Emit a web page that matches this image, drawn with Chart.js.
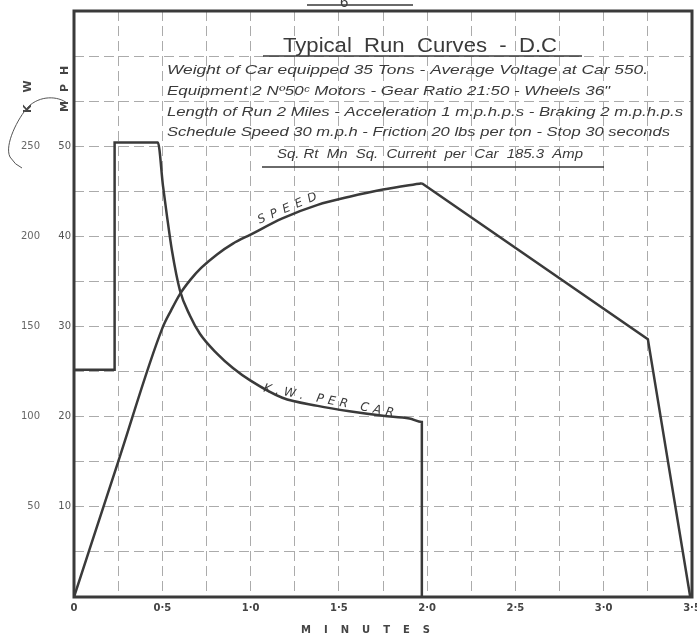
<!DOCTYPE html>
<html>
<head>
<meta charset="utf-8">
<script src="https://cdn.jsdelivr.net/npm/chart.js@4"></script>
<style>
  html, body { margin: 0; padding: 0; background: #fff; }
  #wrap { width: 697px; height: 637px; }
</style>
</head>
<body>
<div id="wrap"><canvas id="runChart" width="697" height="637"></canvas></div>
<script>
// tick labels
const minuteTicks = ['0', '0·5', '1·0', '1·5', '2·0', '2·5', '3·0', '3·5'];
const mphTicks = [10, 20, 30, 40, 50];
const kwTicks = [50, 100, 150, 200, 250];

// speed curve (m.p.h. against minutes) - power on up to 1.97, then coast and brake
const speedMinutes = [0, 0.25, 0.5, 0.55, 0.6, 0.66, 0.72, 0.81, 0.9, 1.0, 1.18, 1.38, 1.56, 1.75, 1.97, 3.25, 3.49];
const speedMph = [0, 15, 29.8, 31.8, 33.6, 35.2, 36.5, 38, 39.2, 40.2, 42, 43.5, 44.4, 45.2, 45.9, 28.6, 0];
const powerOffIndex = 14;

// K.W. per car curve
const kwMinutes = [0, 0.23, 0.23, 0.475, 0.504, 0.527, 0.555, 0.6, 0.657, 0.713, 0.81, 0.9, 1.0, 1.18, 1.38, 1.56, 1.75, 1.9, 1.97, 1.97];
const kwValues = [126, 126, 252, 252, 228, 211, 192, 170, 156, 146, 135, 127, 120, 110.5, 106, 103, 100.5, 99, 97, 0];

const infoLines = [
    'Weight of Car equipped 35 Tons - Average Voltage at Car 550.',
    'Equipment 2 Nº50ᶜ Motors - Gear Ratio 21:50 - Wheels 36"',
    'Length of Run 2 Miles - Acceleration 1 m.p.h.p.s - Braking 2 m.p.h.p.s',
    'Schedule Speed 30 m.p.h - Friction 20 lbs per ton - Stop 30 seconds'
];

const ink = '#3a3a3a';

function pairUp(xs, ys) {
    return xs.map((x, i) => ({ x: x, y: ys[i] }));
}

// draw text squeezed/stretched to a given width
function fitText(ctx, text, x, y, width, font) {
    ctx.save();
    ctx.font = font;
    const w = ctx.measureText(text).width;
    ctx.translate(x, y);
    ctx.scale(width / w, 1);
    ctx.fillText(text, 0, 0);
    ctx.restore();
}

function spacedText(ctx, text, x, y, angle, gap, font) {
    ctx.save();
    ctx.translate(x, y);
    ctx.rotate(angle);
    ctx.font = font;
    let cx = 0;
    for (const ch of text) {
        ctx.fillText(ch, cx, 0);
        cx += ctx.measureText(ch).width + gap;
    }
    ctx.restore();
}

const paperPlugin = {
    id: 'paper',
    beforeDraw(chart) {
        const ctx = chart.ctx;
        ctx.save();
        ctx.fillStyle = '#fff';
        ctx.fillRect(0, 0, chart.width, chart.height);
        ctx.restore();
    },
    beforeDatasetsDraw(chart) {
        const ctx = chart.ctx;
        ctx.save();
        ctx.fillStyle = ink;
        ctx.textBaseline = 'alphabetic';

        // title block
        fitText(ctx, 'Typical  Run  Curves  -  D.C', 283, 52, 274, '20px "Liberation Sans"');
        fitText(ctx, infoLines[0], 167, 74, 481, 'italic 13px "Liberation Sans"');
        fitText(ctx, infoLines[1], 167, 95, 443, 'italic 13px "Liberation Sans"');
        fitText(ctx, infoLines[2], 167, 116, 516, 'italic 13px "Liberation Sans"');
        fitText(ctx, infoLines[3], 167, 136, 503, 'italic 13px "Liberation Sans"');
        fitText(ctx, 'Sq. Rt  Mn  Sq.  Current  per  Car  185.3  Amp', 277, 158, 306, 'italic 13px "Liberation Sans"');

        ctx.strokeStyle = ink;
        ctx.lineWidth = 1.3;
        ctx.beginPath();
        ctx.moveTo(263, 56); ctx.lineTo(582, 56);
        ctx.moveTo(262, 167); ctx.lineTo(604, 167);
        // fig. heading underline at the top edge
        ctx.moveTo(307, 5); ctx.lineTo(413, 5);
        ctx.stroke();
        ctx.font = '15px "Liberation Sans"';
        ctx.fillText('6', 340, 7);
        ctx.restore();
    },
    afterDraw(chart) {
        const ctx = chart.ctx;
        const a = chart.chartArea;
        const xs = chart.scales.x;
        const ys = chart.scales.mph;
        ctx.save();
        // heavy frame
        ctx.strokeStyle = ink;
        ctx.lineWidth = 3;
        ctx.strokeRect(a.left, a.top, a.right - a.left, a.bottom - a.top);

        ctx.fillStyle = ink;
        // curve names
        spacedText(ctx, 'SPEED', xs.getPixelForValue(1.05), ys.getPixelForValue(41.4), -0.40, 6, 'italic 12px "DejaVu Sans"');
        spacedText(ctx, 'K.W. PER CAR', xs.getPixelForValue(1.07), ys.getPixelForValue(22.8), 0.19, 4.5, 'italic 12px "DejaVu Sans"');

        // axis titles
        ctx.fillStyle = '#444';
        spacedText(ctx, 'MPH', 68, 112, -Math.PI / 2, 9, 'bold 11px "DejaVu Sans"');
        spacedText(ctx, 'KW', 31, 113, -Math.PI / 2, 12, 'bold 11px "DejaVu Sans"');
        spacedText(ctx, 'MINUTES', 301, 633, 0, 13, 'bold 10px "DejaVu Sans"');

        // pencil squiggle beside the K W title
        ctx.strokeStyle = '#555';
        ctx.lineWidth = 1;
        ctx.beginPath();
        ctx.moveTo(67, 103);
        ctx.bezierCurveTo(58, 96, 40, 95, 28, 107);
        ctx.bezierCurveTo(18, 118, 4, 145, 10, 157);
        ctx.quadraticCurveTo(15, 165, 22, 168);
        ctx.stroke();
        ctx.restore();
    }
};

const gridStyle = {
    color: '#ababab',
    lineWidth: 1,
    drawTicks: false
};

const lineStyle = {
    borderColor: ink,
    borderWidth: 2.5,
    pointRadius: 0,
    fill: false
};

const speedPoints = pairUp(speedMinutes, speedMph);

new Chart(document.getElementById('runChart'), {
    type: 'line',
    data: {
        datasets: [
            {
                ...lineStyle,
                label: 'Speed',
                data: speedPoints.slice(0, powerOffIndex + 1),
                yAxisID: 'mph',
                cubicInterpolationMode: 'monotone'
            },
            {
                ...lineStyle,
                label: 'Speed (coast and brake)',
                data: speedPoints.slice(powerOffIndex),
                yAxisID: 'mph',
                tension: 0
            },
            {
                ...lineStyle,
                label: 'K.W. per car',
                data: pairUp(kwMinutes, kwValues),
                yAxisID: 'kw',
                cubicInterpolationMode: 'monotone'
            }
        ]
    },
    options: {
        responsive: false,
        animation: false,
        layout: { padding: { top: 11, right: 5, left: 0, bottom: 0 } },
        plugins: {
            legend: { display: false },
            tooltip: { enabled: false }
        },
        scales: {
            x: {
                type: 'linear',
                min: 0,
                max: 3.5,
                grid: gridStyle,
                border: { display: false, dash: [10, 5] },
                ticks: {
                    stepSize: 0.25,
                    autoSkip: false,
                    maxRotation: 0,
                    padding: 5,
                    color: '#444',
                    font: { family: 'DejaVu Sans', size: 10, weight: 'bold' },
                    callback: (v) => {
                        const q = Math.round(v * 4);
                        return q % 2 === 0 ? minuteTicks[q / 2] : '';
                    }
                },
                afterFit: (s) => { s.height = 40; s.paddingLeft = 0; s.paddingRight = 0; }
            },
            mph: {
                position: 'left',
                weight: 0,
                min: 0,
                max: 65,
                grid: gridStyle,
                border: { display: false, dash: [10, 5] },
                ticks: {
                    stepSize: 5,
                    padding: 3,
                    color: '#555',
                    font: { family: 'DejaVu Sans', size: 10 },
                    callback: (v) => mphTicks.includes(v) ? String(v) : ''
                },
                afterFit: (s) => { s.width = 30; s.paddingTop = 0; s.paddingBottom = 0; }
            },
            kw: {
                position: 'left',
                weight: 1,
                min: 0,
                max: 325,
                grid: { display: false, drawTicks: false },
                border: { display: false },
                ticks: {
                    stepSize: 50,
                    padding: 4,
                    color: '#666',
                    font: { family: 'DejaVu Sans', size: 10 },
                    callback: (v) => kwTicks.includes(v) ? String(v) : ''
                },
                afterFit: (s) => { s.width = 44; s.paddingTop = 0; s.paddingBottom = 0; }
            }
        }
    },
    plugins: [paperPlugin]
});
</script>
</body>
</html>
